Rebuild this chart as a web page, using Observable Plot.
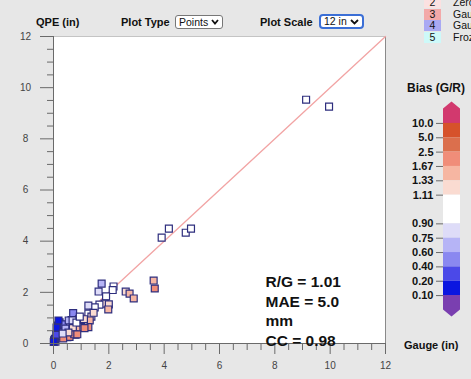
<!DOCTYPE html>
<html><head><meta charset="utf-8">
<script src="https://cdn.jsdelivr.net/npm/d3@7"></script>
<script src="https://cdn.jsdelivr.net/npm/@observablehq/plot@0.6"></script>
<style>
body{margin:0;background:#e7e7e7;font-family:"Liberation Sans",Arial,sans-serif;}
#wrap{position:relative;width:471px;height:379px;overflow:hidden;background:#e7e7e7;}
.abs{position:absolute;white-space:nowrap;}
.hdr{font-weight:bold;font-size:11px;color:#111;line-height:14px;}
.sel{font-size:10.5px;line-height:11px;background:#fff;color:#111;box-sizing:border-box;display:flex;align-items:center;justify-content:space-between;}
.lg{font-size:10.5px;color:#111;}
svg{overflow:visible;}
</style></head><body>
<div id="wrap">
  <div class="abs hdr" style="left:36px;top:15px;">QPE (in)</div>
  <div class="abs hdr" style="left:121px;top:15px;">Plot Type</div>
  <div class="abs sel" style="left:175px;top:15px;width:48px;height:14px;border:1px solid #777;border-radius:3px;padding:0 3px;"><span>Points</span><svg width="8" height="6" viewBox="0 0 8 6"><path d="M1 1 L4 4.5 L7 1" fill="none" stroke="#111" stroke-width="1.8"/></svg></div>
  <div class="abs hdr" style="left:260px;top:15px;">Plot Scale</div>
  <div class="abs sel" style="left:319px;top:14px;width:45px;height:15px;border:2px solid #3b6fd6;border-radius:4px;padding:0 3px;"><span>12 in</span><svg width="9" height="6" viewBox="0 0 9 6"><path d="M1 1 L4.5 4.5 L8 1" fill="none" stroke="#111" stroke-width="1.8"/></svg></div>
  <div id="legend"></div>
  <div id="main" class="abs" style="left:0;top:0;"></div>
  <div class="abs hdr" style="left:407px;top:81px;font-size:12px;">Bias (G/R)</div>
  <div id="cbar" class="abs" style="left:395px;top:80px;"></div>
  <div class="abs hdr" style="left:404px;top:338px;font-size:11px;">Gauge (in)</div>
</div>
<script>
// ---- data ----
const gauge = [9.13, 9.96, 3.91, 4.17, 4.78, 4.97, 3.62, 3.66, 2.61, 2.75, 2.90, 1.74, 1.63, 2.17, 2.14, 1.90, 1.85, 2.00, 1.98, 1.66,
  1.49, 1.26, 1.26, 1.37, 1.31, 1.26, 0.71, 0.65, 0.83, 0.92, 1.09, 1.00, 0.83, 0.80, 0.65, 0.45, 0.22, 0.15, 0.25, 0.36,
  0.50, 0.58, 0.02, 0.07, 0.05, 0.30, 0.40, 0.60, 0.70, 0.75, 0.20, 0.45, 0.10, 0.35, 0.55, 0.11, 0.18, 0.43, 0.69, 0.83,
  1.10, 1.12, 0.86, 0.54, 0.33, 0.01, 1.45, 0.95];
const qpe = [9.53, 9.26, 4.14, 4.49, 4.33, 4.49, 2.46, 2.15, 2.03, 1.95, 1.76, 2.34, 2.03, 2.23, 2.09, 1.84, 1.56, 1.53, 1.33, 1.52,
  1.41, 1.48, 1.17, 1.05, 0.90, 0.64, 1.19, 0.92, 0.90, 0.95, 0.82, 0.64, 0.55, 0.34, 0.55, 0.64, 0.83, 0.70, 0.50, 0.39,
  0.25, 0.26, 0.12, 0.07, 0.18, 0.30, 0.75, 0.78, 0.60, 0.36, 0.45, 0.45, 0.35, 0.20, 0.90, 0.62, 0.90, 0.58, 0.90, 0.82,
  0.95, 0.60, 0.36, 0.43, 0.39, 0.06, 1.20, 1.05];
const oneToOne = [0, 12];
const statsLines = ["R/G = 1.01", "MAE = 5.0", "mm", "CC = 0.98"];
const xMajor = [0, 2, 4, 6, 8, 10, 12];
const yMajor = [0, 2, 4, 6, 8, 10, 12];
const biasBreaks = [10.0, 5.0, 2.5, 1.67, 1.33, 1.11, 0.90, 0.75, 0.60, 0.40, 0.20, 0.10];
const biasLabels = ["10.0", "5.0", "2.5", "1.67", "1.33", "1.11", "0.90", "0.75", "0.60", "0.40", "0.20", "0.10"];
const biasColors = ["#d2396e", "#d6522b", "#db6f4d", "#f08d79", "#f6b6a2", "#fadbd1", "#ffffff",
  "#dedcf8", "#b6b4f6", "#8a88f0", "#4b49e8", "#0b16e0", "#7a3fb0"];
const legendCodes = ["2", "3", "4", "5"];
const legendLabels = ["Zero", "Gauge Only", "Gauge Only", "Frozen"];
const legendColors = ["#fbe1e1", "#f3a9a9", "#a9a9f3", "#cdf9f9"];

// ---- legend (top right) ----
const lg = document.getElementById("legend");
legendCodes.forEach((c, i) => {
  const top = -3 + i * 11.5;
  lg.insertAdjacentHTML("beforeend",
    `<div class="abs lg" style="left:424px;top:${top}px;width:17px;height:11px;background:${legendColors[i]};text-align:center;line-height:11px;">${c}</div>` +
    `<div class="abs lg" style="left:453px;top:${top}px;line-height:11px;">${legendLabels[i]}</div>`);
});

// ---- main scatter ----
const points = gauge.map((g, i) => ({gauge: g, qpe: qpe[i], bias: g / qpe[i]}));
const minor = d3.range(0, 12.01, 0.5).filter(v => v % 2 !== 0);
const font = "Liberation Sans, Arial, sans-serif";
const main = Plot.plot({
  width: 400, height: 379,
  marginLeft: 53, marginRight: 15, marginTop: 36, marginBottom: 36,
  style: {background: "transparent", fontFamily: font, fontSize: "10px", color: "#444"},
  x: {domain: [0, 12], label: null},
  y: {domain: [0, 12], label: null},
  color: {type: "threshold", domain: biasBreaks.slice().reverse(), range: biasColors.slice().reverse()},
  marks: [
    Plot.frame({fill: "white", stroke: "#c4c4c4"}),
    Plot.ruleX([12], {stroke: "#8a8a8a"}),
    Plot.line(oneToOne.map(v => ({a: v, b: v})), {x: "a", y: "b", stroke: "#f2a4a4", strokeWidth: 1.3}),
    Plot.dot(points, {x: "gauge", y: "qpe", symbol: "square", r: 3.9, fill: "bias", stroke: "#2e2e7e", strokeWidth: 1.2}),
    Plot.axisX(xMajor, {anchor: "bottom", tickSize: 11, tickPadding: 7, stroke: "#6a6a6a", fill: "#444", label: null}),
    Plot.axisX(minor, {anchor: "bottom", tickSize: 7, tickFormat: () => "", stroke: "#6a6a6a", label: null}),
    Plot.axisY(yMajor, {anchor: "left", tickSize: 13, tickPadding: 15, textAnchor: "middle", stroke: "#6a6a6a", fill: "#444", label: null}),
    Plot.axisY(minor, {anchor: "left", tickSize: 6, tickFormat: () => "", stroke: "#6a6a6a", label: null}),
    Plot.ruleX([0], {stroke: "#6a6a6a"}),
    Plot.ruleY([0], {stroke: "#6a6a6a"}),
    Plot.text([statsLines.join("\n")], {frameAnchor: "bottom-left", dx: 212, dy: 2, lineAnchor: "bottom", lineHeight: 1.25,
      fontSize: 15.5, fontWeight: "bold", fill: "#111", textAnchor: "start"})
  ]
});
document.getElementById("main").appendChild(main);

// ---- colorbar ----
const slot = i => i + (i >= 6 ? 1 : 0);
const last = biasBreaks.length - 1;
const segs = d3.range(0, last).map(i => ({y1: slot(i), y2: slot(i + 1), c: biasColors[i + 1]}));
const topArrow = [{y: slot(0) - 1.5, a: 0.5, b: 0.5}, {y: slot(0) - 1, a: 0, b: 1}, {y: slot(0), a: 0, b: 1}];
const botArrow = [{y: slot(last), a: 0, b: 1}, {y: slot(last) + 1, a: 0, b: 1}, {y: slot(last) + 1.5, a: 0.5, b: 0.5}];
const labelBySlot = new Map(biasBreaks.map((b, i) => [slot(i), biasLabels[i]]));
const cbar = Plot.plot({
  width: 76, height: 260,
  marginLeft: 48, marginRight: 11, marginTop: 21.4, marginBottom: 23.4,
  style: {background: "transparent", fontFamily: font, fontSize: "11px", color: "#111"},
  x: {domain: [0, 1], axis: null},
  y: {domain: [slot(last) + 1.5, slot(0) - 1.5], label: null},
  color: {type: "identity"},
  marks: [
    Plot.areaX(topArrow, {y: "y", x1: "a", x2: "b", fill: biasColors[0]}),
    Plot.rect(segs, {x1: 0, x2: 1, y1: "y1", y2: "y2", fill: "c"}),
    Plot.areaX(botArrow, {y: "y", x1: "a", x2: "b", fill: biasColors[biasColors.length - 1]}),
    Plot.axisY(biasBreaks.map((b, i) => slot(i)), {anchor: "left", tickSize: 7, tickPadding: 3, stroke: "#6a6a6a",
      fill: "#111", fontWeight: "bold", fontSize: 11, tickFormat: d => labelBySlot.get(d), label: null})
  ]
});
document.getElementById("cbar").appendChild(cbar);
</script>
</body></html>
